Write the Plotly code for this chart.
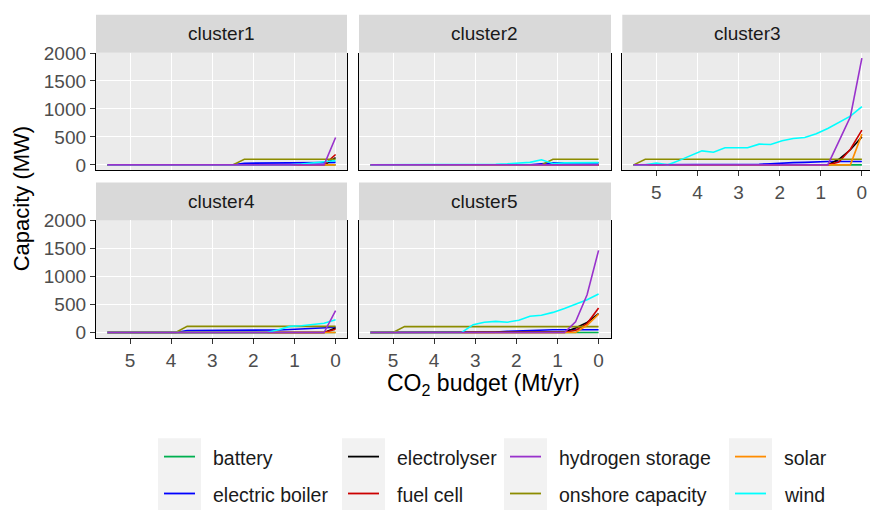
import plotly.graph_objects as go

# CO2 budget steps (Mt/yr), from the unconstrained case down to zero
budget = [5.55, 5.27, 5.0, 4.72, 4.44, 4.16, 3.89, 3.61, 3.33, 3.05, 2.78,
          2.5, 2.22, 1.94, 1.67, 1.39, 1.11, 0.83, 0.56, 0.28, 0.0]

technologies = ["battery", "electric boiler", "electrolyser", "fuel cell",
                "hydrogen storage", "onshore capacity", "solar", "wind"]
tech_colors = ["#00B050", "#0000FF", "#000000", "#CC0000",
               "#9932CC", "#8C8C00", "#FF8C00", "#00FFFF"]

clusters = ["cluster1", "cluster2", "cluster3", "cluster4", "cluster5"]

# Installed capacity (MW) per technology along the budget steps
cluster1 = {
    "battery":          [0] * 21,
    "electric boiler":  [0] * 12 + [30] * 7 + [40, 45],
    "electrolyser":     [0] * 20 + [130],
    "fuel cell":        [0] * 20 + [185],
    "hydrogen storage": [0] * 20 + [490],
    "onshore capacity": [0] * 12 + [100] * 9,
    "solar":            [0] * 21,
    "wind":             [0] * 17 + [15, 40, 55, 75],
}
cluster2 = {
    "battery":          [0] * 21,
    "electric boiler":  [0] * 15 + [20] + [35] * 5,
    "electrolyser":     [0] * 21,
    "fuel cell":        [0] * 21,
    "hydrogen storage": [0] * 21,
    "onshore capacity": [0] * 16 + [100] * 5,
    "solar":            [0] * 21,
    "wind":             [0] * 10 + [8, 12, 18, 25, 45, 90, 25, 35, 38, 40, 40],
}
cluster3 = {
    "battery":          [0] * 21,
    "electric boiler":  [0] * 11 + [10, 20, 35, 40, 45, 55, 60, 60, 60, 60],
    "electrolyser":     [0] * 18 + [100, 270, 500],
    "fuel cell":        [0] * 18 + [50, 280, 620],
    "hydrogen storage": [0] * 18 + [420, 860, 1910],
    "onshore capacity": [0] + [100] * 20,
    "solar":            [0] * 20 + [550],
    "wind":             [0, 0, 30, 0, 80, 165, 250, 225, 305, 305, 305,
                         370, 365, 430, 470, 490, 555, 650, 760, 870, 1040],
}
cluster4 = {
    "battery":          [0] * 21,
    "electric boiler":  [0] * 7 + [35] * 8 + [45, 55, 65, 75, 85, 95],
    "electrolyser":     [0] * 20 + [80],
    "fuel cell":        [0] * 20 + [60],
    "hydrogen storage": [0] * 20 + [390],
    "onshore capacity": [0] * 7 + [110] * 14,
    "solar":            [0] * 21,
    "wind":             [0] * 15 + [50, 110, 120, 140, 165, 230],
}
cluster5 = {
    "battery":          [0] * 21,
    "electric boiler":  [0] * 11 + [10, 20, 30, 40] + [50] * 6,
    "electrolyser":     [0] * 17 + [10, 80, 180, 340],
    "fuel cell":        [0] * 18 + [40, 160, 440],
    "hydrogen storage": [0] * 18 + [190, 675, 1470],
    "onshore capacity": [0] * 3 + [105] * 18,
    "solar":            [0] * 19 + [130, 330],
    "wind":             [0] * 9 + [140, 185, 200, 185, 220, 290, 310, 360,
                                   430, 500, 585, 690],
}
cluster_data = [cluster1, cluster2, cluster3, cluster4, cluster5]

x_ticks = [5, 4, 3, 2, 1, 0]
y_ticks = [0, 500, 1000, 1500, 2000]

# hydrogen storage is drawn last so it sits on top of the zero baseline
draw_order = ["battery", "electric boiler", "electrolyser", "fuel cell",
              "onshore capacity", "solar", "wind", "hydrogen storage"]

W, H = 870, 515
FONT = "Liberation Sans, Arial, Helvetica, sans-serif"


def px_x(v):
    return v / W


def px_y(v):
    return 1 - v / H


# panel geometry in pixels: (left, right) per column, (top, bottom) per row
col_px = [(96, 347), (359, 611), (622.3, 870)]
row_px = [(44, 165), (216.7, 337.7)]
strip_h = 39
positions = [(0, 0), (0, 1), (0, 2), (1, 0), (1, 1)]
full_w = 347 - 96

fig = go.Figure()
layout = dict(
    width=W, height=H,
    margin=dict(l=0, r=0, t=0, b=0),
    paper_bgcolor="white",
    plot_bgcolor="#EBEBEB",
    showlegend=False,
    font=dict(family=FONT, size=19, color="#4D4D4D"),
)
shapes = []
annotations = []

x_lo, x_hi = 5.8275, -0.2775
y_lo, y_hi = -95.5, 2005.5
for i, (name, data) in enumerate(zip(clusters, cluster_data)):
    r, c = positions[i]
    left, right = col_px[c]
    top, bottom = row_px[r]
    ax = "" if i == 0 else str(i + 1)

    for tech in draw_order:
        color = tech_colors[technologies.index(tech)]
        fig.add_trace(go.Scatter(
            x=budget, y=data[tech], mode="lines", name=tech,
            line=dict(color=color, width=1.6),
            xaxis="x" + ax, yaxis="y" + ax, showlegend=False,
            hoverinfo="skip",
        ))

    # every column shares one x scale; the last column runs off the page edge
    px_per_unit = full_w / (x_lo - x_hi)
    x_right = x_lo - (right - left) / px_per_unit
    show_x = (r == 1) or (c == 2)
    show_y = (c == 0)
    layout["xaxis" + ax] = dict(
        domain=[px_x(left), px_x(right)],
        anchor="y" + ax,
        range=[x_lo, x_right],
        tickvals=x_ticks, ticktext=[str(t) for t in x_ticks],
        showticklabels=show_x,
        ticks="outside" if show_x else "", ticklen=5, tickwidth=1.1,
        tickcolor="#333333",
        tickfont=dict(size=19, color="#4D4D4D"),
        showgrid=True, gridcolor="white", gridwidth=1.1,
        zeroline=False,
        showline=True, linecolor="black", linewidth=1.3, mirror=False,
    )
    layout["yaxis" + ax] = dict(
        domain=[px_y(bottom), px_y(top)],
        anchor="x" + ax,
        range=[y_lo, y_hi],
        tickvals=y_ticks, ticktext=[str(t) for t in y_ticks],
        showticklabels=show_y,
        ticks="outside" if show_y else "", ticklen=5, tickwidth=1.1,
        tickcolor="#333333",
        tickfont=dict(size=19, color="#4D4D4D"),
        showgrid=True, gridcolor="white", gridwidth=1.1,
        zeroline=False,
        showline=True, linecolor="black", linewidth=1.3,
        mirror=(c != 2),
    )

    # facet strip with the cluster name centred over the full panel width
    shapes.append(dict(
        type="rect", xref="paper", yref="paper",
        x0=px_x(left), x1=px_x(right),
        y0=px_y(top), y1=px_y(top - strip_h),
        fillcolor="#D9D9D9", line=dict(width=0), layer="below",
    ))
    annotations.append(dict(
        text=name, xref="paper", yref="paper",
        x=px_x(left + full_w / 2),
        y=px_y(top - strip_h / 2),
        showarrow=False, xanchor="center", yanchor="middle",
        font=dict(family=FONT, size=19, color="#1A1A1A"),
    ))

# axis titles
annotations.append(dict(
    text="CO<sub>2</sub> budget (Mt/yr)", xref="paper", yref="paper",
    x=px_x(484), y=px_y(386), showarrow=False,
    xanchor="center", yanchor="middle",
    font=dict(family=FONT, size=23, color="black"),
))
annotations.append(dict(
    text="Capacity (MW)", xref="paper", yref="paper",
    x=px_x(21), y=px_y(195), showarrow=False, textangle=-90,
    xanchor="center", yanchor="middle",
    font=dict(family=FONT, size=22, color="black"),
))

# legend: 4 columns x 2 rows, filled column by column
key_left = [158, 342, 504, 729]
key_w = 43
row_centers = [460, 498]
for j, tech in enumerate(technologies):
    col, row = divmod(j, 2)
    kx = key_left[col]
    if row == 0:
        shapes.append(dict(
            type="rect", xref="paper", yref="paper",
            x0=px_x(kx), x1=px_x(kx + key_w),
            y0=px_y(515), y1=px_y(441),
            fillcolor="#F2F2F2", line=dict(width=0), layer="below",
        ))
    yc = row_centers[row]
    shapes.append(dict(
        type="line", xref="paper", yref="paper",
        x0=px_x(kx + 6), x1=px_x(kx + key_w - 6),
        y0=px_y(yc), y1=px_y(yc),
        line=dict(color=tech_colors[j], width=1.8),
    ))
    annotations.append(dict(
        text=tech, xref="paper", yref="paper",
        x=px_x(kx + 53), y=px_y(yc + 1.5), showarrow=False,
        xanchor="left", yanchor="middle",
        font=dict(family=FONT, size=19.5, color="#1A1A1A"),
    ))

layout["shapes"] = shapes
layout["annotations"] = annotations
fig.update_layout(**layout)
fig.write_html("out.html")
